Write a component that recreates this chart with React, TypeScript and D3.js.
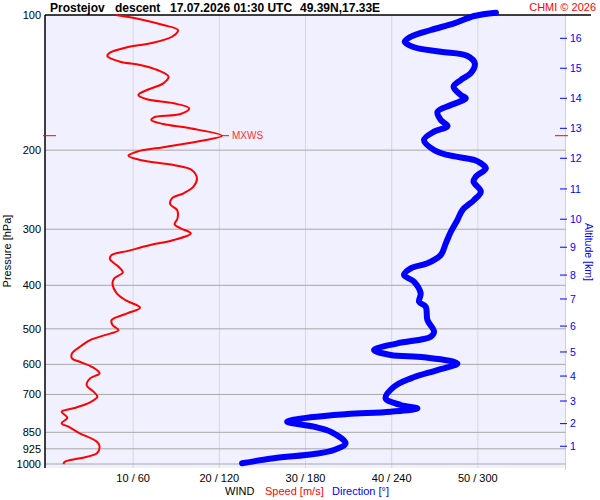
import React from "react";
import * as d3 from "d3";

const RED = "#ff0000";
const BLUE = "#0000ff";
const FONT = "'Liberation Sans', Arial, sans-serif";

// pressure levels on the left axis
const P_TICKS = [100, 200, 300, 400, 500, 600, 700, 850, 925, 1000];
// bottom axis: speed [m/s] / direction [deg]
const X_TICKS = [10, 20, 30, 40, 50];
const X_LABELS = ["10 / 60", "20 / 120", "30 / 180", "40 / 240", "50 / 300"];
// altitude ticks (km) and the pressure where each sits
const ALT_KM = [1, 2, 3, 4, 5, 6, 7, 8, 9, 10, 11, 12, 13, 14, 15, 16];
const ALT_P = [913, 813, 724, 637, 563, 493, 429, 379.5, 329, 285, 244, 208.5, 178.8, 153.3, 131.4, 112.7];

const MXWS_P = 185.7;
const MXWS_SPEED = 20.3;

// wind speed profile
const SPEED_P = [100, 102.2, 105.3, 108, 111.8, 115.6, 118, 121.3, 123.4, 127.1, 129.2, 132.6, 137.2, 142, 146.9, 150.7, 154.1, 157.3, 161.4, 166.2, 169, 171.4, 174.9, 178.8, 185.7, 190.8, 196.5, 201.6, 205.8, 210.3, 215.8, 221.4, 231, 241.2, 249.5, 256, 264, 271.9, 283.7, 292.5, 298.6, 306.4, 317.1, 325.4, 335.6, 342.5, 349.6, 363.7, 374.3, 385.9, 396, 416.8, 431.4, 448.8, 461.9, 478, 490.4, 503.2, 516.5, 529.9, 548.5, 567, 581.7, 592, 607.4, 628.3, 644.6, 667.3, 690.2, 708.2, 728.8, 751.5, 764.8, 788.7, 811.6, 825.9, 854.3, 891.9, 915.2, 946.6, 971.2, 988.3, 1000];
const SPEED = [8, 10.8, 13.5, 15.2, 14.5, 12, 9.3, 7.3, 7, 8.5, 10.8, 12.8, 14.1, 13.5, 11.6, 10.6, 11.6, 14.7, 16.5, 15.5, 12.4, 12.1, 13.5, 16.6, 20.3, 17.8, 13.9, 10.4, 9.45, 10.8, 14.7, 16.8, 17.4, 17, 15.85, 14.5, 14.3, 15.1, 15.15, 14.8, 15.5, 16.7, 14.7, 12, 9.3, 7.5, 7.3, 8.3, 8.8, 7.8, 7.6, 8.1, 9.1, 10.8, 9.3, 7.5, 7.6, 8.3, 6.7, 5, 3.8, 2.9, 2.9, 3.8, 5.2, 6.1, 5, 4.6, 5.4, 5.85, 5, 3.06, 1.7, 2.36, 1.7, 2.5, 3.8, 5.8, 6.1, 5.8, 3.8, 2.1, 1.9];

// wind direction profile
const DIR_P = [98.8, 100.5, 104.4, 108, 111.8, 114.7, 118, 120.7, 123.4, 128.1, 134.8, 139.6, 144.4, 150.7, 153.3, 158.7, 164.3, 171.4, 176.7, 181.9, 189.8, 199.8, 205, 210.3, 213.9, 219.5, 229.1, 235, 247.5, 258.2, 271.9, 286.1, 303.9, 322.5, 342.3, 357.3, 366.6, 379.5, 392.6, 416.8, 435.2, 446.4, 478, 507.5, 520.5, 538.6, 557.4, 571.9, 578.7, 596.9, 617.7, 644.6, 672.9, 714.1, 738.9, 751.5, 764.8, 773.8, 787, 804.9, 825.9, 847.2, 899.3, 930.7, 950.1, 971.2, 996.4];
const DIR = [312.6, 297.4, 283.5, 267.2, 253.3, 249.1, 255.6, 274.2, 292.8, 297.9, 295.1, 288.1, 283.1, 288.1, 291.6, 281.2, 271.9, 274.2, 278.9, 269.5, 262.5, 269.5, 278.9, 297.4, 302.1, 305.6, 298.6, 297, 302.1, 297.4, 289.3, 285.8, 281.2, 277.7, 274.2, 264.9, 253.3, 248.6, 255.6, 260.2, 259.1, 263.7, 264.9, 269.5, 267.2, 244, 227.7, 239.3, 262.5, 285.8, 271.9, 253.3, 241.6, 235.8, 246.3, 257.9, 239.3, 209.1, 183.5, 167.2, 185.8, 197.4, 207.9, 199.8, 185.8, 157.9, 135.8];

const LEFT = 45;
const RIGHT = 565.5;
const TOP = 15;
const BOTTOM = 468;

export default function App() {
  const y = d3.scaleLog().domain([100, 1000]).range([TOP, 464]);
  const x = d3.scaleLinear().domain([0, 60]).range([47, 564]);

  const speedLine = d3
    .line<number>()
    .x((_, i) => x(SPEED[i]))
    .y((p) => y(p))
    .curve(d3.curveCatmullRom);
  const dirLine = d3
    .line<number>()
    .x((_, i) => x(DIR[i] / 6))
    .y((p) => y(p))
    .curve(d3.curveCatmullRom);

  const my = y(MXWS_P);
  const mx = x(MXWS_SPEED);

  return (
    <svg
      width={600}
      height={500}
      style={{ position: "absolute", left: 0, top: 0, background: "#fff" }}
      fontFamily={FONT}
    >
      <rect x={LEFT} y={TOP} width={RIGHT - LEFT} height={BOTTOM - TOP} fill="#f0f0ff" />

      {/* vertical grid */}
      {X_TICKS.map((t) => (
        <line key={t} x1={x(t)} x2={x(t)} y1={TOP} y2={BOTTOM} stroke="#d8d8d8" />
      ))}
      <line x1={RIGHT} x2={RIGHT} y1={TOP} y2={BOTTOM + 2} stroke="#d0d0d0" />

      {/* horizontal grid */}
      {P_TICKS.slice(1).map((p) => (
        <line key={p} x1={LEFT} x2={RIGHT} y1={y(p)} y2={y(p)} stroke="#a8a8a8" />
      ))}

      {/* left axis */}
      <line x1={LEFT} x2={LEFT} y1={TOP} y2={BOTTOM} stroke="#000" strokeWidth={1.5} />
      <line x1={LEFT} x2={591} y1={TOP} y2={TOP} stroke="#000" strokeWidth={1.5} />
      {P_TICKS.map((p) => (
        <text key={p} x={41} y={y(p)} dy="0.36em" textAnchor="end" fontSize={11} fill="#000">
          {p}
        </text>
      ))}
      <text transform="translate(11,251) rotate(-90)" textAnchor="middle" fontSize={11} fill="#000">
        Pressure [hPa]
      </text>

      {/* bottom labels */}
      {X_TICKS.map((t, i) => (
        <text key={t} x={x(t)} y={482} textAnchor="middle" fontSize={11} fill="#000">
          {X_LABELS[i]}
        </text>
      ))}
      <text x={225} y={495} fontSize={11} fill="#000">WIND</text>
      <text x={265} y={495} fontSize={11} fill={RED}>Speed [m/s]</text>
      <text x={332} y={495} fontSize={11} fill={BLUE}>Direction [°]</text>

      {/* right altitude axis */}
      {ALT_KM.map((k, i) => (
        <g key={k}>
          <line x1={560} x2={567} y1={y(ALT_P[i])} y2={y(ALT_P[i])} stroke={BLUE} />
          <text x={570} y={y(ALT_P[i])} dy="0.36em" fontSize={10.5} fill={BLUE}>
            {k}
          </text>
        </g>
      ))}
      <text transform="translate(585,252) rotate(90)" textAnchor="middle" fontSize={10.5} fill={BLUE}>
        Altitude [km]
      </text>

      {/* profiles */}
      <path
        d={dirLine(DIR_P) || ""}
        fill="none"
        stroke={BLUE}
        strokeWidth={6}
        strokeLinecap="round"
        strokeLinejoin="round"
      />
      <path d={speedLine(SPEED_P) || ""} fill="none" stroke={RED} strokeWidth={2} strokeLinejoin="round" />

      {/* max wind marker */}
      <line x1={mx} x2={229} y1={my} y2={my} stroke={RED} />
      <text x={232} y={my} dy="0.36em" fontSize={10} fill="#ff3030">MXWS</text>
      <line x1={43} x2={56} y1={my} y2={my} stroke={RED} />
      <line x1={555} x2={568} y1={my} y2={my} stroke={RED} />

      {/* title */}
      <g fontSize={12} fontWeight="bold" fill="#000">
        <text x={50} y={12}>Prostejov</text>
        <text x={115} y={12}>descent</text>
        <text x={170} y={12}>17.07.2026 01:30 UTC</text>
        <text x={300} y={12}>49.39N,17.33E</text>
      </g>
      <text x={596} y={11} textAnchor="end" fontSize={11} fill={RED}>
        CHMI © 2026
      </text>
    </svg>
  );
}
